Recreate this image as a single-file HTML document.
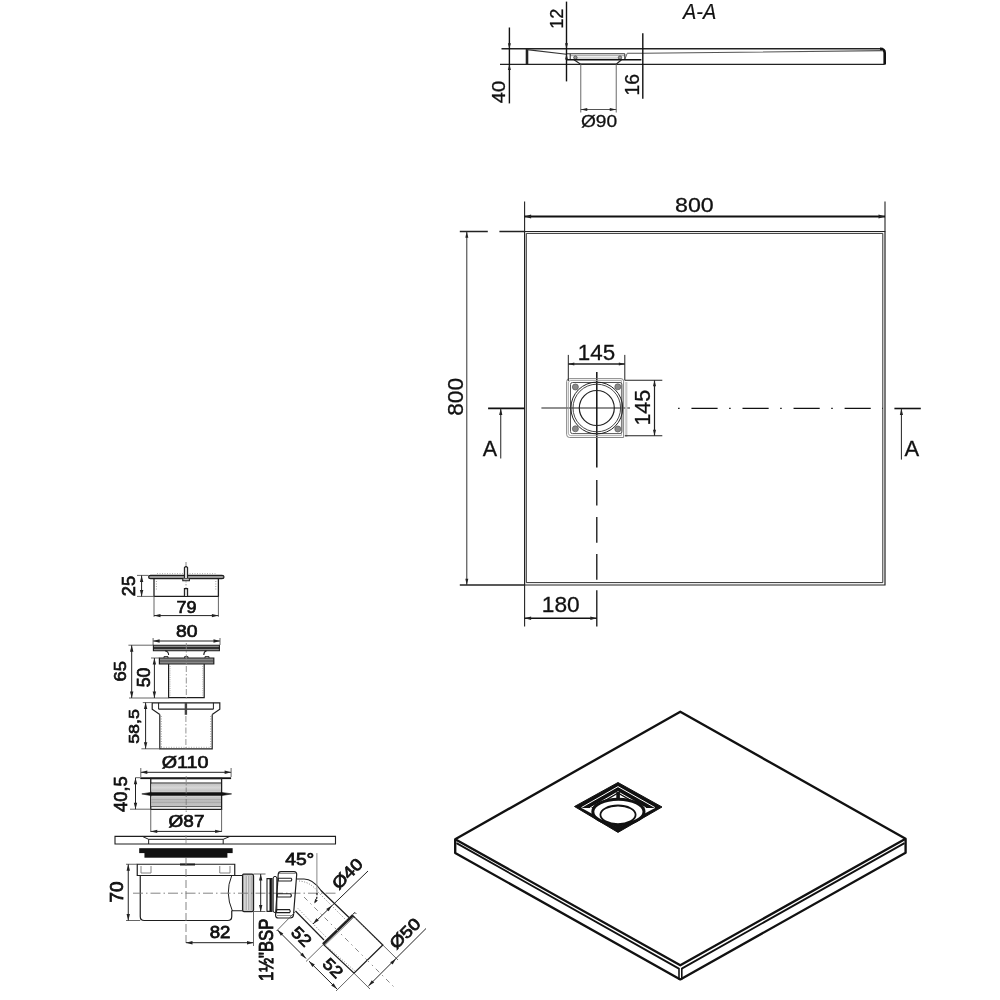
<!DOCTYPE html>
<html><head><meta charset="utf-8"><style>
html,body{margin:0;padding:0;background:#fff;width:1000px;height:1000px;overflow:hidden}
svg{display:block;will-change:transform}
text{font-family:"Liberation Sans",sans-serif}
</style></head><body>
<svg width="1000" height="1000" viewBox="0 0 1000 1000">
<rect width="1000" height="1000" fill="#fff"/>
<line x1="501.5" y1="48.8" x2="882" y2="48.8" stroke="#222" stroke-width="1.5" />
<path d="M880,48.8 Q884.7,48.8 884.7,53 L884.7,64.4" stroke="#111" stroke-width="2.6" fill="none" />
<line x1="500" y1="64.4" x2="884.7" y2="64.4" stroke="#222" stroke-width="1.2" />
<line x1="527" y1="48.8" x2="527" y2="64.4" stroke="#222" stroke-width="2.6" />
<path d="M527,49.6 L566.4,54.25" stroke="#333" stroke-width="1.1" fill="none" />
<path d="M627.2,53.3 L643,53.3 L883,50.6" stroke="#555" stroke-width="1.1" fill="none" />
<path d="M625,59 L627.2,53.3" stroke="#555" stroke-width="0.9" fill="none" />
<line x1="566.4" y1="53.8" x2="624.8" y2="53.8" stroke="#333" stroke-width="1.1" />
<line x1="570.2" y1="55.7" x2="624.8" y2="55.7" stroke="#888" stroke-width="0.8" />
<line x1="575" y1="58" x2="620" y2="58" stroke="#999" stroke-width="0.8" />
<line x1="570.2" y1="53.8" x2="570.2" y2="59.5" stroke="#333" stroke-width="1.1" />
<line x1="624.8" y1="53.8" x2="624.8" y2="59.5" stroke="#333" stroke-width="1.1" />
<circle cx="575.4" cy="57.6" r="1.7" fill="#999" stroke="#333" stroke-width="0.7"/>
<circle cx="620" cy="57.6" r="1.7" fill="#999" stroke="#333" stroke-width="0.7"/>
<line x1="566.4" y1="59.75" x2="641.4" y2="59.75" stroke="#111" stroke-width="1.7" />
<path d="M574,59.75 L580.6,64.2 L616.25,64.2 L621.5,59.75" stroke="#222" stroke-width="1.3" fill="none" />
<line x1="509.4" y1="27.5" x2="509.4" y2="103.4" stroke="#111" stroke-width="1.4" />
<path d="M509.40,48.80L507.90,43.30L510.90,43.30Z" fill="#222"/>
<path d="M509.40,64.40L510.90,69.90L507.90,69.90Z" fill="#222"/>
<line x1="566.5" y1="1.6" x2="566.5" y2="81.4" stroke="#111" stroke-width="1.4" />
<path d="M566.50,48.80L565.00,43.30L568.00,43.30Z" fill="#222"/>
<path d="M566.50,54.00L568.00,59.50L565.00,59.50Z" fill="#222"/>
<line x1="642.8" y1="33.2" x2="642.8" y2="98.8" stroke="#111" stroke-width="1.4" />
<line x1="580.75" y1="64.4" x2="580.75" y2="112.5" stroke="#777" stroke-width="1.1" />
<line x1="616.25" y1="64.4" x2="616.25" y2="112.5" stroke="#777" stroke-width="1.1" />
<line x1="580.75" y1="109.5" x2="616.25" y2="109.5" stroke="#555" stroke-width="1.1" />
<path d="M580.75,109.50L587.25,107.90L587.25,111.10Z" fill="#222"/>
<path d="M616.25,109.50L609.75,111.10L609.75,107.90Z" fill="#222"/>
<path d="M524.6,231.5 L885,231.5 L885,585 L524.6,585 Z" stroke="#222" stroke-width="1.2" fill="none" />
<path d="M526.3,233.4 L882.8,233.4 L882.8,582.6 L526.3,582.6 Z" stroke="#333" stroke-width="1" fill="none" />
<line x1="524.6" y1="201.5" x2="524.6" y2="231.5" stroke="#222" stroke-width="1.1" />
<line x1="885" y1="201.5" x2="885" y2="231.5" stroke="#222" stroke-width="1.1" />
<line x1="524.6" y1="216.5" x2="885" y2="216.5" stroke="#111" stroke-width="1.8" />
<path d="M524.60,216.50L531.10,214.60L531.10,218.40Z" fill="#222"/>
<path d="M885.00,216.50L878.50,218.40L878.50,214.60Z" fill="#222"/>
<path d="M459.8,231.5 L487.8,231.5 M499.4,231.5 L524.6,231.5" stroke="#222" stroke-width="1.3" fill="none" />
<line x1="459.8" y1="585" x2="524.6" y2="585" stroke="#222" stroke-width="1.3" />
<line x1="466.8" y1="231.5" x2="466.8" y2="585" stroke="#333" stroke-width="1" />
<path d="M466.80,231.50L468.30,237.80L465.30,237.80Z" fill="#222"/>
<path d="M466.80,585.00L465.30,578.70L468.30,578.70Z" fill="#222"/>
<line x1="488.1" y1="408.4" x2="524.6" y2="408.4" stroke="#111" stroke-width="1.6" />
<line x1="500.75" y1="408.4" x2="500.75" y2="458.5" stroke="#222" stroke-width="1" />
<path d="M500.75,408.40L502.35,414.90L499.15,414.90Z" fill="#222"/>
<line x1="894.4" y1="408.5" x2="920.8" y2="408.5" stroke="#111" stroke-width="1.6" />
<line x1="901.4" y1="408.5" x2="901.4" y2="459.6" stroke="#222" stroke-width="1" />
<path d="M901.40,408.50L903.00,415.00L899.80,415.00Z" fill="#222"/>
<line x1="541.4" y1="408" x2="630" y2="408" stroke="#222" stroke-width="1.1" />
<line x1="678.1" y1="408.4" x2="883" y2="408.4" stroke="#111" stroke-width="1.4" stroke-dasharray="1.5,11.85,26.15,11.55"/>
<line x1="596.8" y1="371.9" x2="596.8" y2="467.6" stroke="#111" stroke-width="1.5" />
<line x1="596.8" y1="479.9" x2="596.8" y2="582.6" stroke="#111" stroke-width="1.3" stroke-dasharray="25.7,11.4"/>
<line x1="596.8" y1="590.2" x2="596.8" y2="626.5" stroke="#111" stroke-width="1.3" />
<line x1="524.6" y1="585" x2="524.6" y2="626.5" stroke="#222" stroke-width="1.1" />
<line x1="524.6" y1="618.2" x2="596.8" y2="618.2" stroke="#111" stroke-width="1.6" />
<path d="M524.60,618.20L531.10,616.40L531.10,620.00Z" fill="#222"/>
<path d="M596.80,618.20L590.30,620.00L590.30,616.40Z" fill="#222"/>
<path d="M569.6,378.65 L621,378.65 Q623.6,378.65 623.6,381.2 L623.6,437.5 L569.6,437.5 Q566.65,437.5 566.65,434.5 L566.65,381.6 Q566.65,378.65 569.6,378.65 Z" stroke="#777" stroke-width="0.9" fill="none" />
<path d="M570.8,380.5 L621.4,380.5 L621.4,435.6 L570.8,435.6 Q568.4,435.6 568.4,433.2 L568.4,382.9 Q568.4,380.5 570.8,380.5 Z" stroke="#999" stroke-width="0.8" fill="none" />
<path d="M572.5,382.5 L620,382.5 Q621.95,382.5 621.95,384.5 L621.95,431.6 Q621.95,433.6 620,433.6 L572.5,433.6 Q570.5,433.6 570.5,431.6 L570.5,384.5 Q570.5,382.5 572.5,382.5 Z" stroke="#555" stroke-width="1" fill="none" />
<line x1="626.3" y1="382" x2="626.3" y2="437" stroke="#c8c8c8" stroke-width="2.2" />
<circle cx="596.8" cy="408" r="25.9" fill="none" stroke="#222" stroke-width="1"/>
<circle cx="596.8" cy="408" r="23.8" fill="none" stroke="#333" stroke-width="0.9"/>
<circle cx="596.8" cy="408" r="17.5" fill="none" stroke="#222" stroke-width="1.2"/>
<circle cx="575.4" cy="387" r="3" fill="#8a8a8a" stroke="#555" stroke-width="0.7"/>
<circle cx="617.8" cy="386.8" r="3" fill="#8a8a8a" stroke="#555" stroke-width="0.7"/>
<circle cx="575.4" cy="428.8" r="3" fill="#8a8a8a" stroke="#555" stroke-width="0.7"/>
<circle cx="617.8" cy="429" r="3" fill="#8a8a8a" stroke="#555" stroke-width="0.7"/>
<line x1="568.3" y1="354.9" x2="568.3" y2="381" stroke="#222" stroke-width="1" />
<line x1="624.8" y1="354.9" x2="624.8" y2="380.4" stroke="#222" stroke-width="1" />
<line x1="568.3" y1="364" x2="624.8" y2="364" stroke="#222" stroke-width="1.3" />
<path d="M568.30,364.00L574.30,362.50L574.30,365.50Z" fill="#222"/>
<path d="M624.80,364.00L618.80,365.50L618.80,362.50Z" fill="#222"/>
<line x1="624.8" y1="380.3" x2="662.3" y2="380.3" stroke="#222" stroke-width="1.1" />
<line x1="624.8" y1="435.7" x2="662.3" y2="435.7" stroke="#222" stroke-width="1.1" />
<line x1="654.5" y1="380.3" x2="654.5" y2="435.7" stroke="#222" stroke-width="1.2" />
<path d="M654.50,380.30L656.00,386.30L653.00,386.30Z" fill="#222"/>
<path d="M654.50,435.70L653.00,429.70L656.00,429.70Z" fill="#222"/>
<path d="M680.3,711.7 L905.6,838.8 L905.6,852.8 L680.3,979.4 L455.2,853 L455.2,839.2 Z" stroke="#111" stroke-width="2.35" fill="none" stroke-linejoin="round"/>
<path d="M455.2,839.2 L680.3,965.2 L905.6,838.8" stroke="#111" stroke-width="2.35" fill="none" stroke-linejoin="round"/>
<path d="M456.5,843.1 L678.9,968.6 M681.7,968.6 L904.5,843.1" stroke="#111" stroke-width="1.8" fill="none" />
<path d="M679,968 L679,979.4 M681.8,968 L681.8,979.4" stroke="#111" stroke-width="1.6" fill="none" />
<path d="M618,782.5 L662,807 L618,832.4 L574.5,806.5 Z" fill="#111" stroke="#111" stroke-width="1" stroke-linejoin="round"/>
<path d="M581.5,807.5 L618,786.6 L654.8,807.5" fill="none" stroke="#fff" stroke-width="1"/>
<path d="M590,808 L618,791.8 L646,808" fill="none" stroke="#fff" stroke-width="1"/>
<path d="M594,808 L618,793.8 L642.5,808 L655,808 L618,827.8 L581.5,808 Z" fill="#fff"/>
<path d="M594,814 L618,828.5 L642,814 Z" fill="#111"/>
<ellipse cx="618.4" cy="811.8" rx="25.6" ry="12.5" fill="#fff" stroke="#111" stroke-width="3"/>
<rect x="616.3" y="792" width="3.6" height="6.5" fill="#111"/>
<ellipse cx="618" cy="814.8" rx="17.6" ry="9.3" fill="#fff" stroke="#111" stroke-width="1.8"/>
<path d="M150.5,575.4 L222,575.4 Q224,575.4 224,577 Q224,578.6 222,578.6 L150.5,578.6 Q148.6,578.6 148.6,577 Q148.6,575.4 150.5,575.4 Z" stroke="#1e1e1e" stroke-width="1.2" fill="#999" />
<path d="M154,578.6 L154,596.4 L218.4,596.4 L218.4,578.6" stroke="#1e1e1e" stroke-width="1.3" fill="none" />
<path d="M156.4,581 L156.4,591 M215.8,581 L215.8,591" stroke="#888" stroke-width="0.8" fill="none" stroke-dasharray="1,1.5"/>
<path d="M157,573.6 L216,573.6" stroke="#999" stroke-width="0.8" fill="none" stroke-dasharray="1,1.5"/>
<path d="M184.4,578 L184.4,567.6 Q186,565.6 187.6,567.6 L187.6,578" stroke="#1e1e1e" stroke-width="1.1" fill="#ddd" />
<line x1="186" y1="562" x2="186" y2="566" stroke="#666" stroke-width="0.8" />
<path d="M182.8,578.6 L182.8,580.8 L189.4,580.8 L189.4,578.6" stroke="#1e1e1e" stroke-width="1.1" fill="#bbb" />
<path d="M184.4,596 L184.4,588.6 L187.6,588.6 L187.6,596" stroke="#1e1e1e" stroke-width="1.1" fill="#ddd" />
<line x1="186" y1="581" x2="186" y2="588" stroke="#888" stroke-width="0.8" stroke-dasharray="1.5,1.5"/>
<line x1="137" y1="575.4" x2="148.6" y2="575.4" stroke="#555" stroke-width="0.9" />
<line x1="137" y1="596.4" x2="154" y2="596.4" stroke="#555" stroke-width="0.9" />
<line x1="141.6" y1="575.4" x2="141.6" y2="596.4" stroke="#222" stroke-width="1" />
<path d="M141.60,575.40L143.30,581.90L139.90,581.90Z" fill="#222"/>
<path d="M141.60,596.40L139.90,589.90L143.30,589.90Z" fill="#222"/>
<line x1="154" y1="596.4" x2="154" y2="616.8" stroke="#555" stroke-width="0.9" />
<line x1="218.4" y1="596.4" x2="218.4" y2="616.8" stroke="#555" stroke-width="0.9" />
<line x1="154" y1="615.6" x2="218.4" y2="615.6" stroke="#222" stroke-width="1" />
<path d="M154.00,615.60L160.50,613.90L160.50,617.30Z" fill="#222"/>
<path d="M218.40,615.60L211.90,617.30L211.90,613.90Z" fill="#222"/>
<line x1="153.1" y1="641" x2="220" y2="641" stroke="#222" stroke-width="1" />
<path d="M153.10,641.00L159.60,639.30L159.60,642.70Z" fill="#222"/>
<path d="M220.00,641.00L213.50,642.70L213.50,639.30Z" fill="#222"/>
<line x1="153.1" y1="638" x2="153.1" y2="645" stroke="#555" stroke-width="0.9" />
<line x1="220" y1="638" x2="220" y2="645" stroke="#555" stroke-width="0.9" />
<path d="M153.4,645.2 L219.4,645.2 L219.4,650.8 L153.4,650.8 Z" stroke="#1e1e1e" stroke-width="1.1" fill="#8a8a8a" />
<line x1="153.4" y1="648" x2="219.4" y2="648" stroke="#111" stroke-width="1.3" />
<path d="M165,650.8 Q168.6,651.5 168.6,655 M206.6,650.8 Q203.8,651.5 203.8,655" stroke="#1e1e1e" stroke-width="1.1" fill="none" />
<path d="M159.4,658 L213.8,658 L213.8,664 L159.4,664 Z" stroke="#1e1e1e" stroke-width="1.2" fill="#8a8a8a" />
<line x1="159.4" y1="661" x2="213.8" y2="661" stroke="#333" stroke-width="0.8" />
<path d="M164,658 L164,656.6 L168,656.6 L168,658 M205,658 L205,656.6 L209,656.6 L209,658 M184.6,658 L184.6,656.6 L188,656.6 L188,658" stroke="#1e1e1e" stroke-width="0.9" fill="none" />
<path d="M168.6,664 L168.6,697.6 L204.2,697.6 L204.2,664" stroke="#1e1e1e" stroke-width="1.2" fill="none" />
<path d="M170,666 L170,696 M202.8,666 L202.8,696" stroke="#999" stroke-width="0.8" fill="none" stroke-dasharray="1,1.2"/>
<line x1="186.3" y1="643" x2="186.3" y2="700" stroke="#888" stroke-width="0.9" stroke-dasharray="6,2,1.5,2"/>
<line x1="128.4" y1="645.2" x2="153.4" y2="645.2" stroke="#555" stroke-width="0.9" />
<line x1="129" y1="698" x2="168.6" y2="698" stroke="#555" stroke-width="0.9" />
<line x1="131.7" y1="645.2" x2="131.7" y2="698" stroke="#222" stroke-width="1" />
<path d="M131.70,645.20L133.40,651.70L130.00,651.70Z" fill="#222"/>
<path d="M131.70,698.00L130.00,691.50L133.40,691.50Z" fill="#222"/>
<line x1="151" y1="658" x2="159.4" y2="658" stroke="#555" stroke-width="0.9" />
<line x1="154.4" y1="658" x2="154.4" y2="698" stroke="#222" stroke-width="1" />
<path d="M154.40,658.00L156.10,664.50L152.70,664.50Z" fill="#222"/>
<path d="M154.40,698.00L152.70,691.50L156.10,691.50Z" fill="#222"/>
<line x1="142.8" y1="702.6" x2="151.9" y2="702.6" stroke="#555" stroke-width="0.9" />
<path d="M159.8,714.4 L152.2,709.2 L152.2,702.8 L219.8,702.8 L219.8,709.2 L212.2,714.4" stroke="#1e1e1e" stroke-width="1.2" fill="none" />
<line x1="158.6" y1="702.8" x2="158.6" y2="709.2" stroke="#1e1e1e" stroke-width="1" />
<line x1="213.4" y1="702.8" x2="213.4" y2="709.2" stroke="#1e1e1e" stroke-width="1" />
<line x1="158.6" y1="709.2" x2="213.4" y2="709.2" stroke="#1e1e1e" stroke-width="1.2" />
<path d="M159.8,714.4 L159.8,748.8 L212.2,748.8 L212.2,714.4" stroke="#1e1e1e" stroke-width="1.2" fill="none" />
<path d="M161.2,716 L161.2,747 M210.8,716 L210.8,747" stroke="#888" stroke-width="0.9" fill="none" stroke-dasharray="1,1.5"/>
<path d="M161,747.3 L211,747.3" stroke="#999" stroke-width="0.8" fill="none" stroke-dasharray="1,1.5"/>
<line x1="185.9" y1="716" x2="185.9" y2="750" stroke="#888" stroke-width="0.9" stroke-dasharray="6,2,1.5,2"/>
<line x1="185.9" y1="702.8" x2="185.9" y2="714.8" stroke="#444" stroke-width="2.4" />
<line x1="141.4" y1="748.8" x2="159.6" y2="748.8" stroke="#555" stroke-width="0.9" />
<line x1="145.6" y1="702.6" x2="145.6" y2="748.8" stroke="#222" stroke-width="1" />
<path d="M145.60,702.60L147.30,709.10L143.90,709.10Z" fill="#222"/>
<path d="M145.60,748.80L143.90,742.30L147.30,742.30Z" fill="#222"/>
<line x1="140.8" y1="772.3" x2="231.1" y2="772.3" stroke="#222" stroke-width="1" />
<path d="M140.80,772.30L147.30,770.60L147.30,774.00Z" fill="#222"/>
<path d="M231.10,772.30L224.60,774.00L224.60,770.60Z" fill="#222"/>
<line x1="140.8" y1="768" x2="140.8" y2="777" stroke="#555" stroke-width="0.9" />
<line x1="231.1" y1="768" x2="231.1" y2="777" stroke="#555" stroke-width="0.9" />
<rect x="140.3" y="777.3" width="90.8" height="1.8" fill="#111"/>
<defs><linearGradient id="gth" x1="0" y1="0" x2="0" y2="1"><stop offset="0" stop-color="#c2c2c2"/><stop offset="0.5" stop-color="#d6d6d6"/><stop offset="1" stop-color="#bdbdbd"/></linearGradient><linearGradient id="gth2" x1="0" y1="0" x2="0" y2="1"><stop offset="0" stop-color="#c8c8c8"/><stop offset="0.5" stop-color="#bababa"/><stop offset="1" stop-color="#c4c4c4"/></linearGradient></defs>
<path d="M150.75,778.5 L221.6,778.5 L221.6,809.4 L150.75,809.4 Z" stroke="#1e1e1e" stroke-width="1.3" fill="none" />
<rect x="151.4" y="783.6" width="69.6" height="8" fill="url(#gth)"/>
<rect x="151.4" y="796.4" width="69.6" height="10" fill="url(#gth2)"/>
<line x1="151" y1="783" x2="221" y2="783" stroke="#222" stroke-width="1.2" />
<line x1="151" y1="806.6" x2="221" y2="806.6" stroke="#444" stroke-width="0.9" />
<path d="M151,799.5 L221,799.5 M151,802.5 L221,802.5" stroke="#999" stroke-width="0.5" fill="none" />
<path d="M141.8,793.9 L150.75,792.4 L221.6,792.4 L231.6,793.9 L221.6,795.6 L150.75,795.6 Z" stroke="#111" stroke-width="0.6" fill="#111" />
<line x1="186.2" y1="776" x2="186.2" y2="812" stroke="#777" stroke-width="0.8" stroke-dasharray="6,2,1.5,2"/>
<line x1="135.5" y1="777.7" x2="140.3" y2="777.7" stroke="#555" stroke-width="0.9" />
<line x1="130" y1="809.2" x2="150.75" y2="809.2" stroke="#555" stroke-width="0.9" />
<line x1="135.5" y1="777.7" x2="135.5" y2="809.2" stroke="#222" stroke-width="1" />
<path d="M135.50,777.70L137.20,784.20L133.80,784.20Z" fill="#222"/>
<path d="M135.50,809.20L133.80,802.70L137.20,802.70Z" fill="#222"/>
<line x1="150.75" y1="809.4" x2="150.75" y2="832" stroke="#555" stroke-width="0.9" />
<line x1="221.6" y1="809.4" x2="221.6" y2="832" stroke="#555" stroke-width="0.9" />
<line x1="150.75" y1="831.4" x2="221.6" y2="831.4" stroke="#222" stroke-width="1" />
<path d="M150.75,831.40L157.25,829.70L157.25,833.10Z" fill="#222"/>
<path d="M221.60,831.40L215.10,833.10L215.10,829.70Z" fill="#222"/>
<path d="M115,836.4 L335.5,836.4 L335.5,844 L115,844 Z" stroke="#1e1e1e" stroke-width="1.1" fill="none" />
<path d="M142.35,836.4 L148.65,839.3 L223.2,839.3 L230,836.4" stroke="#1e1e1e" stroke-width="1" fill="none" />
<line x1="148.65" y1="839.3" x2="148.65" y2="844" stroke="#1e1e1e" stroke-width="1" />
<line x1="223.2" y1="839.3" x2="223.2" y2="844" stroke="#1e1e1e" stroke-width="1" />
<rect x="139.2" y="848.2" width="93.45" height="4.9" fill="#111"/>
<rect x="144.45" y="853" width="82.95" height="4.7" fill="#111"/>
<path d="M137.25,864.25 L234.75,864.25 L234.75,875.5 L137.25,875.5 Z" stroke="#1e1e1e" stroke-width="1.2" fill="none" />
<path d="M140.25,875.5 L140.25,916.5 Q140.25,920.5 144.25,920.5 L227.75,920.5 Q231.75,920.5 231.75,916.5 L231.75,910.75" stroke="#1e1e1e" stroke-width="1.2" fill="none" />
<path d="M231.75,875.5 L242.25,875.5 M231.75,910.75 L242.25,910.75" stroke="#1e1e1e" stroke-width="1.2" fill="none" />
<path d="M231.75,875.5 Q224.5,893 232.4,911" stroke="#1e1e1e" stroke-width="1" fill="none" />
<path d="M243.5,874.2 L252,874.2 Q253.5,874.2 253.5,876 L253.5,910 Q253.5,911.6 252,911.6 L244,911.6 Q242.6,911.6 242.6,910 L242.6,876 Q242.6,874.2 243.5,874.2 Z" stroke="#1e1e1e" stroke-width="1.3" fill="#c8c8c8" />
<path d="M245,876 L245,910 M247.5,876 L247.5,910 M250,876 L250,910" stroke="#eee" stroke-width="0.7" fill="none" />
<path d="M246.2,876 L246.2,910 M248.7,876 L248.7,910 M251.2,876 L251.2,910" stroke="#999" stroke-width="0.6" fill="none" />
<path d="M141,866 L141,873 L151,873 L151,866 M219.75,866 L219.75,873 L230,873 L230,866" stroke="#777" stroke-width="0.9" fill="none" />
<path d="M180,864.5 L195,864.5" stroke="#1e1e1e" stroke-width="2" fill="none" />
<line x1="126" y1="864.25" x2="137.25" y2="864.25" stroke="#555" stroke-width="0.9" />
<line x1="126" y1="920.5" x2="140.25" y2="920.5" stroke="#555" stroke-width="0.9" />
<line x1="128.25" y1="864.25" x2="128.25" y2="920.5" stroke="#222" stroke-width="1" />
<path d="M128.25,864.25L129.95,870.75L126.55,870.75Z" fill="#222"/>
<path d="M128.25,920.50L126.55,914.00L129.95,914.00Z" fill="#222"/>
<line x1="133" y1="893.2" x2="337" y2="893.2" stroke="#777" stroke-width="0.9" stroke-dasharray="10,3,1.5,3"/>
<line x1="186" y1="858" x2="186" y2="945" stroke="#777" stroke-width="0.9" stroke-dasharray="8,3"/>
<line x1="186" y1="835" x2="186" y2="845" stroke="#888" stroke-width="0.8" />
<line x1="186" y1="942.7" x2="253.5" y2="942.7" stroke="#222" stroke-width="1" />
<path d="M186.00,942.70L192.50,941.00L192.50,944.40Z" fill="#222"/>
<path d="M253.50,942.70L247.00,944.40L247.00,941.00Z" fill="#222"/>
<line x1="253.5" y1="911.5" x2="253.5" y2="946" stroke="#555" stroke-width="0.9" />
<line x1="253.5" y1="874" x2="265.5" y2="874" stroke="#555" stroke-width="0.9" />
<line x1="253.5" y1="911.5" x2="265.5" y2="911.5" stroke="#555" stroke-width="0.9" />
<line x1="260.7" y1="874" x2="260.7" y2="911.5" stroke="#222" stroke-width="1" />
<path d="M260.70,874.00L262.40,880.50L259.00,880.50Z" fill="#222"/>
<path d="M260.70,911.50L259.00,905.00L262.40,905.00Z" fill="#222"/>
<path d="M267,878.6 L272,878.6 L272,911.4 L267,911.4 Z" stroke="#1e1e1e" stroke-width="1.1" fill="none" />
<line x1="270.6" y1="879" x2="270.6" y2="911" stroke="#111" stroke-width="2.2" />
<path d="M273.2,878 Q273.2,876.4 275,876.4 Q276.8,876.4 276.8,878 L276.8,911 Q276.8,912.5 275,912.5 Q273.2,912.5 273.2,911 Z" stroke="#1e1e1e" stroke-width="1" fill="none" />
<path d="M281,871.6 L294,871.6 Q296.7,871.6 296.7,874.5 L293.5,915 Q293.2,918 290.2,918 L278.5,918 Q275.4,918 275.6,915 L278.2,874.5 Q278.4,871.6 281,871.6 Z" stroke="#1e1e1e" stroke-width="1.2" fill="none" />
<path d="M279,873.5 L295.5,873.5" stroke="#777" stroke-width="0.8" fill="none" />
<path d="M278.3,878.2 L291,878.2 Q292.5,879.6 291,881 L278.2,881 Z" stroke="#1e1e1e" stroke-width="1.1" fill="none" />
<path d="M277.4,893.8 L290.6,893.8 Q292.2,895.4 290.6,897 L277.2,897 Z" stroke="#1e1e1e" stroke-width="1.1" fill="none" />
<path d="M276.4,909.6 L289.6,909.6 Q291,911.1 289.6,912.6 L276.2,912.6 Z" stroke="#1e1e1e" stroke-width="1.1" fill="none" />
<path d="M277,915.5 L292.5,915.5" stroke="#777" stroke-width="0.8" fill="none" />
<path d="M296.5,879 L304,879 Q313,879 321,890.5 L349,917.5" stroke="#1e1e1e" stroke-width="1.2" fill="none" />
<path d="M295.5,911 L324,940" stroke="#1e1e1e" stroke-width="1.2" fill="none" />
<path d="M323,944.2 L353,915.3" stroke="#222" stroke-width="2.6" fill="none" />
<path d="M324.5,945.6 L354.4,916.7" stroke="#666" stroke-width="0.8" fill="none" />
<path d="M352.8,915.6 L382.8,945 L354,973.2 L323.4,944.4" stroke="#1e1e1e" stroke-width="1.3" fill="none" />
<path d="M352.5,914.5 L355,912.5 L356.2,913.8" stroke="#1e1e1e" stroke-width="1" fill="none" />
<path d="M298,908.5 L326,937 M299,881 Q311,882 318,892 L346.5,920.5" stroke="#777" stroke-width="0.9" fill="none" stroke-dasharray="1,1.6"/>
<path d="M326.5,946 L355,971 M355,918 L380.5,943.5" stroke="#888" stroke-width="0.9" fill="none" stroke-dasharray="1,1.6"/>
<line x1="304" y1="897" x2="396" y2="989" stroke="#888" stroke-width="1" stroke-dasharray="5,4,1.5,4"/>
<line x1="316.9" y1="853.1" x2="316.9" y2="893" stroke="#888" stroke-width="1" />
<path d="M316.9,893 Q317.5,899 314.5,903" stroke="#222" stroke-width="1.3" fill="none" stroke-dasharray="2.2,1.4"/>
<path d="M314.20,903.50L315.23,898.87L317.80,900.41Z" fill="#222"/>
<line x1="313" y1="924" x2="368" y2="871" stroke="#222" stroke-width="1" />
<path d="M313.00,924.00L316.39,918.20L318.80,920.61Z" fill="#222"/>
<path d="M332.00,905.50L328.61,911.30L326.20,908.89Z" fill="#222"/>
<line x1="296" y1="911" x2="276.5" y2="931" stroke="#555" stroke-width="0.9" />
<line x1="323.4" y1="944.4" x2="306" y2="961.5" stroke="#555" stroke-width="0.9" />
<line x1="354" y1="973.2" x2="336" y2="991" stroke="#555" stroke-width="0.9" />
<line x1="277.5" y1="930" x2="306" y2="958.5" stroke="#222" stroke-width="1" />
<path d="M277.50,930.00L283.30,933.39L280.89,935.80Z" fill="#222"/>
<path d="M306.00,958.50L300.20,955.11L302.61,952.70Z" fill="#222"/>
<line x1="309" y1="961.2" x2="337" y2="989" stroke="#222" stroke-width="1" />
<path d="M309.00,961.20L314.80,964.59L312.39,967.00Z" fill="#222"/>
<path d="M337.00,989.00L331.20,985.61L333.61,983.20Z" fill="#222"/>
<line x1="354" y1="973.2" x2="370" y2="989" stroke="#555" stroke-width="0.9" />
<line x1="382.8" y1="945" x2="398" y2="960" stroke="#555" stroke-width="0.9" />
<line x1="368.4" y1="986" x2="426" y2="928.5" stroke="#222" stroke-width="1" />
<path d="M368.40,986.00L371.79,980.20L374.20,982.61Z" fill="#222"/>
<path d="M396.00,958.80L392.61,964.60L390.20,962.19Z" fill="#222"/>
<text transform="translate(698.62 11.75) rotate(0) scale(0.1991 0.2217) translate(-78.00 34.50)" font-size="100" font-weight="normal" font-style="italic" fill="#111" stroke="#111" stroke-width="0.95">A-A</text>
<text transform="translate(498.80 92.15) rotate(-90) scale(0.2019 0.1817) translate(-54.50 34.50)" font-size="100" font-weight="normal" fill="#111" stroke="#111" stroke-width="1.57">40</text>
<text transform="translate(556.50 18.43) rotate(-90) scale(0.1821 0.1843) translate(-57.00 35.00)" font-size="100" font-weight="normal" fill="#111" stroke="#111" stroke-width="1.64">12</text>
<text transform="translate(632.20 84.35) rotate(-90) scale(0.1939 0.1958) translate(-57.50 34.50)" font-size="100" font-weight="normal" fill="#111" stroke="#111" stroke-width="1.54">16</text>
<text transform="translate(599.00 121.50) rotate(0) scale(0.1917 0.1649) translate(-94.50 35.00)" font-size="100" font-weight="normal" fill="#111" stroke="#111" stroke-width="1.69">Ø90</text>
<text transform="translate(694.40 204.25) rotate(0) scale(0.2321 0.2113) translate(-83.50 34.50)" font-size="100" font-weight="normal" fill="#111" stroke="#111" stroke-width="1.35">800</text>
<text transform="translate(455.25 396.85) rotate(-90) scale(0.2264 0.2225) translate(-83.50 34.50)" font-size="100" font-weight="normal" fill="#111" stroke="#111" stroke-width="1.34">800</text>
<text transform="translate(489.95 447.77) rotate(0) scale(0.2152 0.2268) translate(-33.00 34.50)" font-size="100" font-weight="normal" fill="#111" stroke="#111" stroke-width="1.36">A</text>
<text transform="translate(911.80 448.00) rotate(0) scale(0.2197 0.2275) translate(-33.00 34.50)" font-size="100" font-weight="normal" fill="#111" stroke="#111" stroke-width="1.34">A</text>
<text transform="translate(597.00 352.35) rotate(0) scale(0.2239 0.2143) translate(-85.50 34.00)" font-size="100" font-weight="normal" fill="#111" stroke="#111" stroke-width="1.37">145</text>
<text transform="translate(642.50 407.25) rotate(-90) scale(0.2142 0.2243) translate(-85.50 34.00)" font-size="100" font-weight="normal" fill="#111" stroke="#111" stroke-width="1.37">145</text>
<text transform="translate(561.25 604.65) rotate(0) scale(0.2271 0.2254) translate(-85.50 34.50)" font-size="100" font-weight="normal" fill="#111" stroke="#111" stroke-width="1.33">180</text>
<text transform="translate(128.50 585.97) rotate(-90) scale(0.1828 0.1803) translate(-56.00 34.50)" font-size="100" font-weight="normal" fill="#111" stroke="#111" stroke-width="3.86">25</text>
<text transform="translate(186.55 607.10) rotate(0) scale(0.1802 0.1620) translate(-55.50 34.50)" font-size="100" font-weight="normal" fill="#111" stroke="#111" stroke-width="4.10">79</text>
<text transform="translate(186.85 630.75) rotate(0) scale(0.1942 0.1676) translate(-55.50 34.50)" font-size="100" font-weight="normal" fill="#111" stroke="#111" stroke-width="3.88">80</text>
<text transform="translate(120.00 671.25) rotate(-90) scale(0.1843 0.1732) translate(-56.00 34.50)" font-size="100" font-weight="normal" fill="#111" stroke="#111" stroke-width="3.92">65</text>
<text transform="translate(143.75 677.50) rotate(-90) scale(0.1777 0.1803) translate(-55.50 34.50)" font-size="100" font-weight="normal" fill="#111" stroke="#111" stroke-width="3.91">50</text>
<text transform="translate(134.25 726.50) rotate(-90) scale(0.1790 0.1542) translate(-97.00 28.50)" font-size="100" font-weight="normal" fill="#111" stroke="#111" stroke-width="4.21">58,5</text>
<text transform="translate(185.15 762.55) rotate(0) scale(0.1974 0.1568) translate(-118.50 35.00)" font-size="100" font-weight="normal" fill="#111" stroke="#111" stroke-width="3.98">Ø110</text>
<text transform="translate(121.85 794.40) rotate(-90) scale(0.1835 0.1759) translate(-96.00 28.50)" font-size="100" font-weight="normal" fill="#111" stroke="#111" stroke-width="3.90">40,5</text>
<text transform="translate(186.43 821.15) rotate(0) scale(0.1897 0.1568) translate(-94.00 35.00)" font-size="100" font-weight="normal" fill="#111" stroke="#111" stroke-width="4.06">Ø87</text>
<text transform="translate(117.20 892.00) rotate(-90) scale(0.1882 0.1803) translate(-56.00 34.50)" font-size="100" font-weight="normal" fill="#111" stroke="#111" stroke-width="4.34">70</text>
<text transform="translate(219.90 932.70) rotate(0) scale(0.1863 0.1662) translate(-55.00 34.50)" font-size="100" font-weight="normal" fill="#111" stroke="#111" stroke-width="4.55">82</text>
<text transform="translate(266.15 949.70) rotate(-90) scale(0.1662 0.1958) translate(-188.50 34.50)" font-size="100" font-weight="normal" fill="#111" stroke="#111" stroke-width="4.43">1½&quot;BSP</text>
<text transform="translate(299.35 859.50) rotate(0) scale(0.1923 0.1690) translate(-73.50 34.50)" font-size="100" font-weight="normal" fill="#111" stroke="#111" stroke-width="4.44">45°</text>
<text transform="translate(347.20 873.60) rotate(-45) scale(0.1890 0.1649) translate(-94.50 35.00)" font-size="100" font-weight="normal" fill="#111" stroke="#111" stroke-width="4.53">Ø40</text>
<text transform="translate(301.40 936.40) rotate(45) scale(0.1863 0.1662) translate(-55.00 34.50)" font-size="100" font-weight="normal" fill="#111" stroke="#111" stroke-width="4.55">52</text>
<text transform="translate(332.90 967.90) rotate(45) scale(0.1863 0.1662) translate(-55.00 34.50)" font-size="100" font-weight="normal" fill="#111" stroke="#111" stroke-width="4.55">52</text>
<text transform="translate(404.90 933.35) rotate(-45) scale(0.1890 0.1649) translate(-94.50 35.00)" font-size="100" font-weight="normal" fill="#111" stroke="#111" stroke-width="4.53">Ø50</text>
</svg>
</body></html>
